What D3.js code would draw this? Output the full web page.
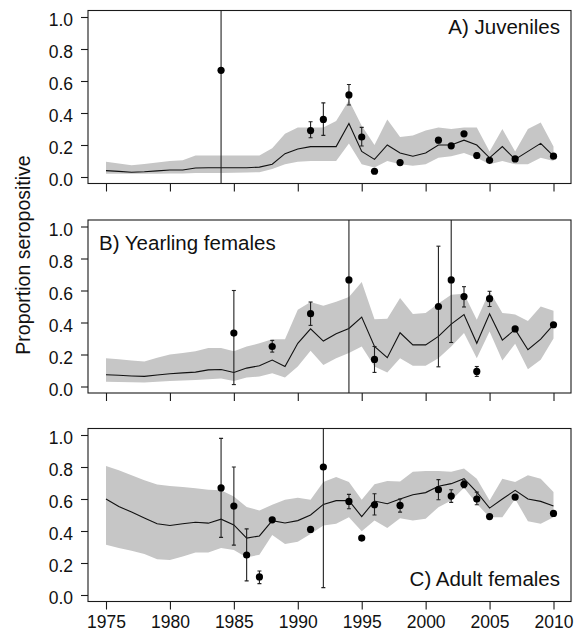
<!DOCTYPE html>
<html>
<head>
<meta charset="utf-8">
<script src="https://cdn.jsdelivr.net/npm/d3@7"></script>
<style>
  html, body { margin: 0; padding: 0; background: #fff; }
  svg { display: block; font-family: "Liberation Sans", Arial, Helvetica, sans-serif; }
</style>
</head>
<body>
<svg id="chart" width="588" height="633"></svg>
<script>
// Years of the modelled series
const years = d3.range(1975, 2011);
const yTicks = [0, 0.2, 0.4, 0.6, 0.8, 1.0];
const xTicks = [1975, 1980, 1985, 1990, 1995, 2000, 2005, 2010];

// A) Juveniles: model mean and 95% band
const juvMean = [0.04,0.035,0.03,0.033,0.038,0.044,0.044,0.056,0.058,0.058,0.058,0.058,0.062,0.08,0.146,0.175,0.19,0.19,0.19,0.334,0.16,0.11,0.2,0.15,0.13,0.15,0.2,0.2,0.23,0.2,0.12,0.19,0.11,0.16,0.21,0.13];
const juvUpper = [0.096,0.085,0.073,0.082,0.09,0.1,0.105,0.135,0.135,0.135,0.135,0.135,0.135,0.18,0.27,0.31,0.31,0.31,0.35,0.48,0.32,0.2,0.36,0.25,0.26,0.29,0.31,0.3,0.31,0.31,0.16,0.3,0.16,0.3,0.34,0.19];
const juvLower = [0.02,0.02,0.02,0.02,0.02,0.022,0.022,0.025,0.025,0.025,0.027,0.028,0.03,0.05,0.08,0.095,0.1,0.1,0.1,0.21,0.08,0.06,0.1,0.08,0.07,0.08,0.12,0.13,0.15,0.12,0.08,0.1,0.08,0.08,0.12,0.1];
// Observed proportions with confidence limits (null = no interval drawn)
const juvObsYear = [1984,1991,1992,1994,1995,1996,1998,2001,2002,2003,2004,2005,2007,2010];
const juvObs     = [0.667,0.29,0.36,0.513,0.25,0.036,0.09,0.23,0.195,0.27,0.134,0.104,0.113,0.13];
const juvObsLo   = [-0.1,0.245,0.26,0.45,0.194,null,null,0.213,null,null,0.12,null,null,null];
const juvObsHi   = [1.1,0.345,0.463,0.578,0.31,null,null,0.245,null,null,0.15,null,null,null];

// B) Yearling females
const yrlMean = [0.073,0.07,0.066,0.063,0.072,0.08,0.085,0.09,0.104,0.106,0.088,0.115,0.13,0.165,0.125,0.27,0.36,0.284,0.33,0.363,0.434,0.25,0.18,0.336,0.26,0.26,0.313,0.39,0.45,0.27,0.455,0.29,0.357,0.23,0.296,0.386];
const yrlUpper = [0.177,0.17,0.163,0.157,0.18,0.2,0.21,0.22,0.24,0.24,0.22,0.25,0.27,0.296,0.296,0.48,0.528,0.505,0.53,0.56,0.653,0.42,0.424,0.553,0.453,0.46,0.518,0.574,0.58,0.417,0.595,0.46,0.45,0.41,0.5,0.474];
const yrlLower = [0.03,0.028,0.026,0.025,0.03,0.035,0.038,0.04,0.045,0.05,0.035,0.056,0.063,0.083,0.056,0.125,0.223,0.135,0.177,0.21,0.25,0.125,0.088,0.177,0.13,0.13,0.177,0.25,0.334,0.177,0.344,0.163,0.267,0.108,0.167,0.3];
const yrlObsYear = [1985,1988,1991,1994,1996,2001,2002,2003,2004,2005,2007,2010];
const yrlObs     = [0.334,0.25,0.455,0.666,0.169,0.5,0.666,0.562,0.094,0.549,0.36,0.386];
const yrlObsLo   = [0.012,0.215,0.382,-0.1,0.088,0.123,0.275,0.497,0.063,0.5,null,null];
const yrlObsHi   = [0.6,0.288,0.528,1.1,0.25,0.877,1.1,0.624,0.125,0.595,null,null];

// C) Adult females
const adfMean = [0.6,0.553,0.518,0.482,0.445,0.434,0.445,0.455,0.449,0.474,0.438,0.356,0.369,0.465,0.45,0.465,0.5,0.566,0.59,0.59,0.49,0.587,0.57,0.6,0.627,0.64,0.68,0.696,0.727,0.643,0.543,0.6,0.654,0.6,0.585,0.556];
const adfUpper = [0.807,0.78,0.748,0.717,0.69,0.681,0.675,0.667,0.658,0.654,0.616,0.55,0.528,0.564,0.595,0.608,0.595,0.706,0.738,0.706,0.595,0.692,0.713,0.71,0.77,0.775,0.775,0.77,0.79,0.727,0.591,0.727,0.706,0.748,0.727,0.643];
const adfLower = [0.314,0.293,0.277,0.256,0.224,0.218,0.241,0.266,0.266,0.293,0.281,0.235,0.252,0.375,0.319,0.333,0.381,0.434,0.445,0.486,0.398,0.465,0.419,0.48,0.465,0.476,0.549,0.591,0.67,0.57,0.486,0.486,0.6,0.461,0.445,0.486];
const adfObsYear = [1984,1985,1986,1987,1988,1991,1992,1994,1995,1996,1998,2001,2002,2003,2004,2005,2007,2010];
const adfObs     = [0.669,0.556,0.25,0.113,0.47,0.41,0.8,0.585,0.356,0.564,0.56,0.658,0.618,0.692,0.6,0.49,0.612,0.51];
const adfObsLo   = [0.36,0.312,0.088,0.071,null,0.398,0.046,0.539,null,0.5,0.518,0.595,0.579,0.67,0.564,null,null,null];
const adfObsHi   = [0.979,0.8,0.413,0.15,null,0.422,1.1,0.629,null,0.633,0.6,0.721,0.658,0.713,0.643,null,null,null];

const panels = [
  { title: "A) Juveniles", top: 10.5, mean: juvMean, upper: juvUpper, lower: juvLower,
    obsYear: juvObsYear, obs: juvObs, lo: juvObsLo, hi: juvObsHi,
    titleX: 560, titleAnchor: "end", titleDy: 23.5, xLabels: false },
  { title: "B) Yearling females", top: 220, mean: yrlMean, upper: yrlUpper, lower: yrlLower,
    obsYear: yrlObsYear, obs: yrlObs, lo: yrlObsLo, hi: yrlObsHi,
    titleX: 99, titleAnchor: "start", titleDy: 30, xLabels: false },
  { title: "C) Adult females", top: 428.5, mean: adfMean, upper: adfUpper, lower: adfLower,
    obsYear: adfObsYear, obs: adfObs, lo: adfObsLo, hi: adfObsHi,
    titleX: 560, titleAnchor: "end", titleDy: 157, xLabels: true }
];

const svg = d3.select("#chart");
const boxLeft = 88, boxRight = 571, boxH = 173;
const ink = "#1a1a1a";

const x = d3.scaleLinear().domain([1975, 2010]).range([106, 553.5]);

panels.forEach((p, i) => {
  const top = p.top, bottom = top + boxH;
  const y = d3.scaleLinear().domain([0, 1]).range([bottom - 6.5, top + 6.5]);

  const g = svg.append("g");
  const clipId = "clip" + i;
  svg.append("clipPath").attr("id", clipId)
    .append("rect").attr("x", boxLeft).attr("y", top).attr("width", boxRight - boxLeft).attr("height", boxH);

  const plot = g.append("g").attr("clip-path", `url(#${clipId})`);

  // model uncertainty band
  const area = d3.area()
    .x((d, j) => x(years[j]))
    .y0((d, j) => y(p.lower[j]))
    .y1((d, j) => y(p.upper[j]));
  plot.append("path").datum(p.mean).attr("d", area).attr("fill", "#c6c6c6");

  // model mean
  const line = d3.line().x((d, j) => x(years[j])).y(d => y(d));
  plot.append("path").datum(p.mean).attr("d", line)
    .attr("fill", "none").attr("stroke", "#111").attr("stroke-width", 1.1);

  // observed values with error bars
  const obs = p.obsYear.map((yr, j) => ({ yr, v: p.obs[j], lo: p.lo[j], hi: p.hi[j] }));
  const withErr = obs.filter(d => d.lo !== null);
  plot.selectAll(".err").data(withErr).enter().append("line")
    .attr("x1", d => x(d.yr)).attr("x2", d => x(d.yr))
    .attr("y1", d => y(d.lo)).attr("y2", d => y(d.hi))
    .attr("stroke", "#222").attr("stroke-width", 1.1);
  withErr.forEach(d => {
    [d.lo, d.hi].forEach(c => {
      plot.append("line")
        .attr("x1", x(d.yr) - 2).attr("x2", x(d.yr) + 2)
        .attr("y1", y(c)).attr("y2", y(c))
        .attr("stroke", "#222").attr("stroke-width", 1.1);
    });
  });
  plot.selectAll(".pt").data(obs).enter().append("circle")
    .attr("cx", d => x(d.yr)).attr("cy", d => y(d.v)).attr("r", 3.6).attr("fill", "#000");

  // frame
  g.append("rect").attr("x", boxLeft).attr("y", top).attr("width", boxRight - boxLeft).attr("height", boxH)
    .attr("fill", "none").attr("stroke", ink).attr("stroke-width", 1.1);

  // y axis: ticks hang off the frame's left edge
  const yAxis = d3.axisLeft(y).tickValues(yTicks).tickFormat(d3.format(".1f")).tickSize(7).tickPadding(8);
  const ya = g.append("g").attr("transform", `translate(${boxLeft},0)`).call(yAxis);
  ya.select(".domain").remove();
  ya.selectAll("line").attr("stroke", ink).attr("stroke-width", 1.1);
  ya.selectAll("text").attr("font-size", 17.5).attr("fill", "#111").attr("dy", "0.5em")
    .attr("font-family", "'Liberation Sans', Arial, sans-serif");

  // x axis: ticks hang off the frame's bottom edge
  const xAxis = d3.axisBottom(x).tickValues(xTicks).tickSize(8).tickPadding(6)
    .tickFormat(p.xLabels ? d3.format("d") : "");
  const xa = g.append("g").attr("transform", `translate(0,${bottom})`).call(xAxis);
  xa.select(".domain").remove();
  xa.selectAll("line").attr("stroke", ink).attr("stroke-width", 1.1);
  xa.selectAll("text").attr("font-size", 17.5).attr("fill", "#111")
    .attr("font-family", "'Liberation Sans', Arial, sans-serif");

  // panel title
  g.append("text").attr("x", p.titleX).attr("y", top + p.titleDy).attr("text-anchor", p.titleAnchor)
    .attr("font-size", 20.5).attr("fill", "#111").text(p.title);
});

// shared y label
svg.append("text")
  .attr("transform", "translate(30,255) rotate(-90)")
  .attr("text-anchor", "middle")
  .attr("font-size", 19.5).attr("fill", "#111")
  .text("Proportion seropositive");
</script>
</body>
</html>
